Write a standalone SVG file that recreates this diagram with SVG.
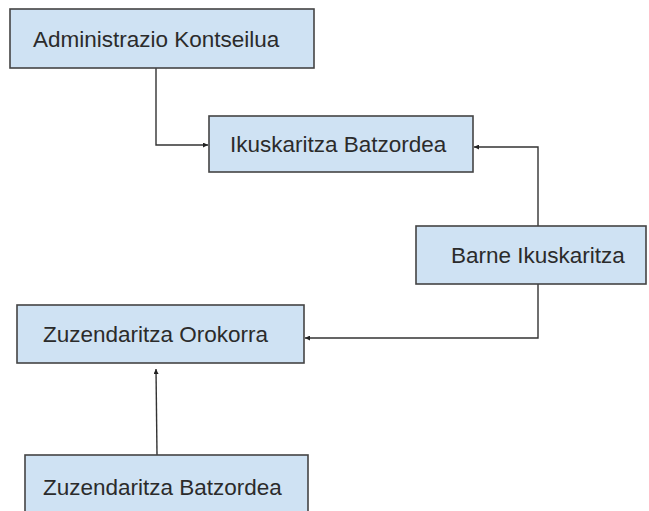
<svg xmlns="http://www.w3.org/2000/svg" width="649" height="511" viewBox="0 0 649 511">
<defs>
<style>
.box{fill:#cfe2f3;stroke:#444;stroke-width:1.6}
.lbl{font-family:"Liberation Sans",Arial,sans-serif;font-size:22.5px;fill:#2b2b2b}
.conn{fill:none;stroke:#333;stroke-width:1.4}
</style>
<marker id="arr" viewBox="0 0 10 10" refX="10" refY="5" markerWidth="5" markerHeight="5" markerUnits="userSpaceOnUse" orient="auto">
<path d="M0,0 L10,5 L0,10 z" fill="#222"/>
</marker>
</defs>
<rect width="649" height="511" fill="#fff"/>
<g id="connectors">
<path class="conn" d="M156,68 L156,145 L208,145" marker-end="url(#arr)"/>
<path class="conn" d="M538,226 L538,147 L474,147" marker-end="url(#arr)"/>
<path class="conn" d="M538,284 L538,338 L305,338" marker-end="url(#arr)"/>
<path class="conn" d="M157,455 L156,369" marker-end="url(#arr)"/>
</g>
<g id="administrazio-kontseilua">
<rect class="box" x="10" y="9" width="304" height="59"/>
<text class="lbl" x="33" y="47">Administrazio Kontseilua</text>
</g>
<g id="ikuskaritza-batzordea">
<rect class="box" x="209" y="116" width="264" height="56"/>
<text class="lbl" x="230" y="152">Ikuskaritza Batzordea</text>
</g>
<g id="barne-ikuskaritza">
<rect class="box" x="416" y="226" width="230" height="58"/>
<text class="lbl" x="451" y="263">Barne Ikuskaritza</text>
</g>
<g id="zuzendaritza-orokorra">
<rect class="box" x="17" y="305" width="287" height="58"/>
<text class="lbl" x="43" y="342">Zuzendaritza Orokorra</text>
</g>
<g id="zuzendaritza-batzordea">
<rect class="box" x="25" y="455" width="283" height="62"/>
<text class="lbl" x="43" y="495">Zuzendaritza Batzordea</text>
</g>
</svg>
